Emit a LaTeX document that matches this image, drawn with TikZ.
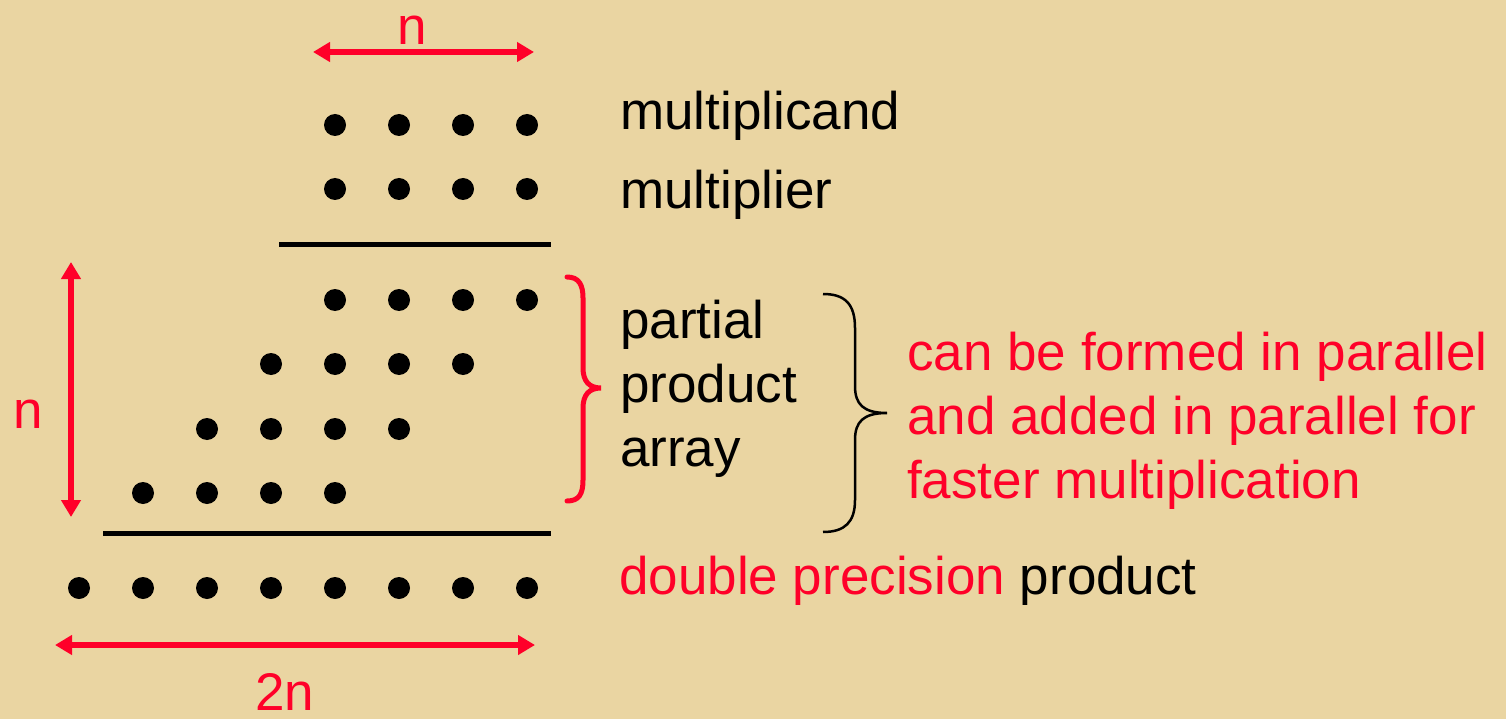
\documentclass[tikz,border=0pt]{standalone}
\usepackage{fontspec}
\setmainfont{Liberation Sans}
\usetikzlibrary{arrows.meta}
\definecolor{parch}{RGB}{234,213,162}
\definecolor{hot}{RGB}{255,0,41}
\begin{document}
\begin{tikzpicture}[x=1pt,y=-1pt,
  dot/.style={circle,fill=black,inner sep=0pt,minimum size=22pt},
  lbl/.style={anchor=base west,inner sep=0pt,font=\fontsize{53pt}{64pt}\selectfont},
  redlbl/.style={lbl,text=hot},
  ctr/.style={anchor=base,inner sep=0pt,text=hot,font=\fontsize{53pt}{64pt}\selectfont},
  dim/.style={draw=hot,line width=5.5pt,{Triangle[length=17pt,width=19pt]}-{Triangle[length=17pt,width=19pt]}},
  rule/.style={draw=black,line width=5pt},
  redbrace/.style={draw=hot,line width=5pt,line cap=round},
  blackbrace/.style={draw=black,line width=2.5pt}]
\useasboundingbox[fill=parch] (0,0) rectangle (1506,719);

% dots
\foreach \c/\x in {1/335,2/399,3/463,4/527}{
  \node[dot] (mc\c) at (\x,125) {};
  \node[dot] (mr\c) at (\x,189) {};
}
\foreach \c/\x in {1/335,2/399,3/463,4/527}{\node[dot] (pa\c) at (\x,300) {};}
\foreach \c/\x in {1/271,2/335,3/399,4/463}{\node[dot] (pb\c) at (\x,364) {};}
\foreach \c/\x in {1/207,2/271,3/335,4/399}{\node[dot] (pc\c) at (\x,429) {};}
\foreach \c/\x in {1/143,2/207,3/271,4/335}{\node[dot] (pd\c) at (\x,493) {};}
\foreach \c/\x in {1/79,2/143,3/207,4/271,5/335,6/399,7/463,8/527}{\node[dot] (pr\c) at (\x,588) {};}

% rules
\coordinate (r1a) at (279,245); \coordinate (r1b) at (551,245);
\draw[rule] (r1a) -- (r1b);
\coordinate (r2a) at (103,533); \coordinate (r2b) at (551,533);
\draw[rule] (r2a) -- (r2b);

% dimension arrows
\coordinate (ta) at (313,52); \coordinate (tb) at (534,52);
\draw[dim] (ta) -- (tb);
\node[ctr] (tn) at (412,45) {n};
\coordinate (la) at (71,262); \coordinate (lb) at (71,517);
\draw[dim] (la) -- (lb);
\node[ctr] (ln) at (28,428) {n};
\coordinate (ba) at (55,645); \coordinate (bb) at (535,645);
\draw[dim] (ba) -- (bb);
\node[ctr] (bn) at (285,710) {2n};

% labels
\node[lbl] (mcand) at (620,130) {multiplicand};
\node[lbl] (mplier) at (620,209) {multiplier};
\node[lbl] (part) at (620,338) {partial};
\node[lbl] (prod) at (620,402) {product};
\node[lbl] (arr) at (620,466) {array};
\node[lbl] (dpp) at (619,594) {\textcolor{hot}{double precision} product};
\node[redlbl] (t1) at (907,370) {can be formed in parallel};
\node[redlbl] (t2) at (907,434) {and added in parallel for};
\node[redlbl] (t3) at (907,498) {faster multiplication};

% braces
\draw[redbrace] (567,277) .. controls (579,277) and (583,285) .. (583,298) -- (583,368)
  .. controls (583,381) and (589,388) .. (601,388)
  .. controls (589,388) and (583,395) .. (583,408) -- (583,480)
  .. controls (583,494) and (579,501) .. (567,501);
\draw[blackbrace] (823,294) .. controls (845,294) and (855,304) .. (855,328) -- (855,386)
  .. controls (855,404) and (863,413) .. (887,413)
  .. controls (863,413) and (855,422) .. (855,440) -- (855,500)
  .. controls (855,522) and (845,532) .. (823,532);
\end{tikzpicture}
\end{document}
